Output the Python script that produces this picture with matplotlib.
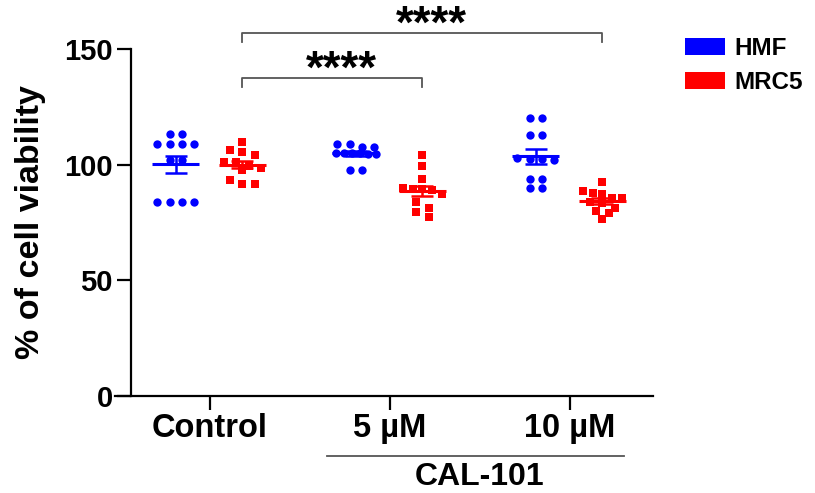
import numpy as np
import matplotlib
matplotlib.use("Agg")
import matplotlib.pyplot as plt
from matplotlib.patches import Patch

plt.rcParams['font.family'] = ['Liberation Sans', 'DejaVu Sans']
plt.rcParams['font.weight'] = 'bold'

# data (% of cell viability, n=12 per group)
groups = ["Control", "5 µM", "10 µM"]
hmf_control = [113.4, 113.4, 108.8, 108.8, 108.8, 108.8, 101.9, 101.9, 83.8, 83.8, 83.8, 83.8]
hmf_5um = [109.1, 109.1, 107.8, 107.8, 105.2, 105.2, 105.0, 105.0, 104.8, 104.6, 97.7, 97.7]
hmf_10um = [120.1, 120.1, 112.7, 112.7, 102.8, 102.3, 102.3, 102.0, 93.9, 93.9, 90.0, 90.0]
mrc5_control = [109.8, 106.2, 105.6, 104.2, 101.1, 101.1, 99.5, 98.7, 97.5, 93.2, 91.8, 91.8]
mrc5_5um = [104.0, 99.4, 93.6, 90.0, 89.6, 89.3, 88.9, 87.1, 83.8, 81.4, 79.5, 77.5]
mrc5_10um = [92.5, 88.6, 87.9, 87.1, 85.7, 85.7, 83.8, 83.2, 81.4, 79.9, 79.2, 76.3]
series = {
    "HMF": [hmf_control, hmf_5um, hmf_10um],
    "MRC5": [mrc5_control, mrc5_5um, mrc5_10um],
}
colors = {"HMF": "#0000ff", "MRC5": "#ff0000"}
markers = {"HMF": "o", "MRC5": "s"}
msize = {"HMF": 36, "MRC5": 28}
shift = {"HMF": -0.19, "MRC5": 0.18}
yticks = [0, 50, 100, 150]


def row_offsets(vals, step=0.068, tol=3.0, max_span=0.22):
    """group near-equal values into rows, spread each row symmetrically"""
    vals = np.asarray(vals, dtype=float)
    order = np.argsort(-vals, kind='stable')
    offs = np.zeros(len(vals))
    rows, cur = [], [order[0]]
    for i in order[1:]:
        if abs(vals[cur[0]] - vals[i]) <= tol:
            cur.append(i)
        else:
            rows.append(cur)
            cur = [i]
    rows.append(cur)
    for r in rows:
        n = len(r)
        st = step if n < 2 else min(step, max_span / (n - 1))
        for k, i in enumerate(r):
            offs[i] = (k - (n - 1) / 2) * st
    return offs


fig = plt.figure(figsize=(8.15, 4.93), dpi=100)
ax = fig.add_axes([0.1411, 0.1968, 0.6601, 0.7039])

for name, data in series.items():
    for gi, vals in enumerate(data):
        xc = gi + shift[name]
        xs = xc + row_offsets(vals)
        ax.scatter(xs, vals, s=msize[name], marker=markers[name],
                   color=colors[name], linewidths=0, zorder=3, clip_on=False)
        m = np.mean(vals)
        sem = np.std(vals, ddof=1) / np.sqrt(len(vals))
        ax.plot([xc - 0.13, xc + 0.13], [m, m], color=colors[name], lw=2.2, zorder=4,
                solid_capstyle='butt')
        ax.errorbar([xc], [m], yerr=[sem], color=colors[name], lw=1.8, capsize=8,
                    capthick=1.8, zorder=4)

ax.set_xlim(-0.528, 2.461)
ax.set_ylim(0, 150)
ax.set_yticks(yticks)
ax.set_xticks(range(len(groups)))
ax.set_xticklabels(groups, fontsize=23.5, fontweight='bold')
ax.tick_params(axis='y', labelsize=21, length=10, width=1.6, pad=3)
ax.tick_params(axis='x', length=10, width=1.6, pad=2)
for lab in ax.get_yticklabels():
    lab.set_fontweight('bold')
ax.spines['top'].set_visible(False)
ax.spines['right'].set_visible(False)
ax.spines['left'].set_position(('data', -0.44))
for sp in ['left', 'bottom']:
    ax.spines[sp].set_linewidth(1.6)
ax.set_ylabel("% of cell viability", fontsize=24.5, fontweight='bold', labelpad=13)


# significance brackets
def bracket(x0, x1, y, h, text):
    ax.plot([x0, x0, x1, x1], [y - h, y, y, y - h], color='#555555', lw=1.3, clip_on=False)
    ax.text((x0 + x1) / 2 + 0.05, y - 2.0, text, ha='center', va='baseline', fontsize=33,
            fontweight='bold', clip_on=False)


bracket(0 + shift["MRC5"], 1 + shift["MRC5"], 137.5, 4, "****")
bracket(0 + shift["MRC5"], 2 + shift["MRC5"], 157.0, 4, "****")

# CAL-101 group label
ax.plot([0.65, 2.30], [-25.9, -25.9], color='#555555', lw=1.3, clip_on=False)
ax.text(1.5, -35.2, "CAL-101", ha='center', va='center', fontsize=23, fontweight='bold')

handles = [Patch(facecolor=colors[k], edgecolor='none') for k in series]
fig.legend(handles, list(series), loc='upper left', bbox_to_anchor=(0.8135, 0.969),
           frameon=False, prop={'size': 17.5, 'weight': 'bold'},
           handlelength=1.65, handleheight=0.74, handletextpad=0.4, labelspacing=0.45)

fig.savefig("out.png", dpi=100)
